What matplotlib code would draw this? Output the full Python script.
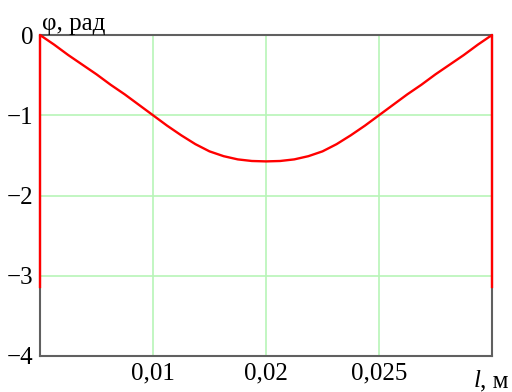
import numpy as np
import matplotlib.pyplot as plt

plt.rcParams['font.family'] = ['Liberation Serif', 'DejaVu Serif']

# phase along length
l_m = [0.0, 0.0, 0.00125, 0.0025, 0.00375, 0.005, 0.00625, 0.0075, 0.00875, 0.01,
       0.01125, 0.0125, 0.01375, 0.015, 0.01625, 0.0175, 0.01875, 0.02,
       0.02125, 0.0225, 0.02375, 0.025, 0.02625, 0.0275, 0.02875, 0.03,
       0.03125, 0.0325, 0.03375, 0.035, 0.03625, 0.0375, 0.03875, 0.04, 0.04]
phi = [-3.14, 0.0, -0.12, -0.25, -0.37, -0.49, -0.62, -0.74, -0.87, -1.0,
       -1.13, -1.25, -1.36, -1.45, -1.51, -1.55, -1.57, -1.575,
       -1.57, -1.55, -1.51, -1.45, -1.36, -1.25, -1.13, -1.0,
       -0.87, -0.74, -0.62, -0.49, -0.37, -0.25, -0.12, 0.0, -3.14]

xticks = [0.01, 0.02, 0.03]
xlabels = ['0,01', '0,02', '0,025']
yticks = [0, -1, -2, -3, -4]
ylabels = ['0', '\u22121', '\u22122', '\u22123', '\u22124']

fig = plt.figure(figsize=(5.12, 3.92), dpi=100)
ax = fig.add_axes([40/512, 36/392, 452/512, 321/392])

ax.plot(l_m, phi, color='#ff0000', lw=1.7, clip_on=False, zorder=5,
        solid_joinstyle='round')

ax.set_xlim(0, 0.04)
ax.set_ylim(-4, 0)
ax.set_xticks(xticks)
ax.set_xticklabels(xlabels)
ax.set_yticks(yticks)
ax.set_yticklabels(ylabels)
ax.tick_params(axis='x', length=0, labelsize=18, pad=5)
ax.tick_params(axis='y', length=0, labelsize=18, pad=5)
ax.grid(True, color='#b8f5b8', lw=1.2)
for s in ax.spines.values():
    s.set_color('#606060')
    s.set_linewidth(1.5)

fig.text(42/512, 1 - 30/392, '\u03c6, рад', fontsize=18, ha='left', va='baseline')
fig.text(474/512, 1 - 387/392, 'l', fontsize=18, style='italic', ha='left', va='baseline')
fig.text(480/512, 1 - 387/392, ', м', fontsize=18, ha='left', va='baseline')

fig.savefig('out.png', dpi=100)
